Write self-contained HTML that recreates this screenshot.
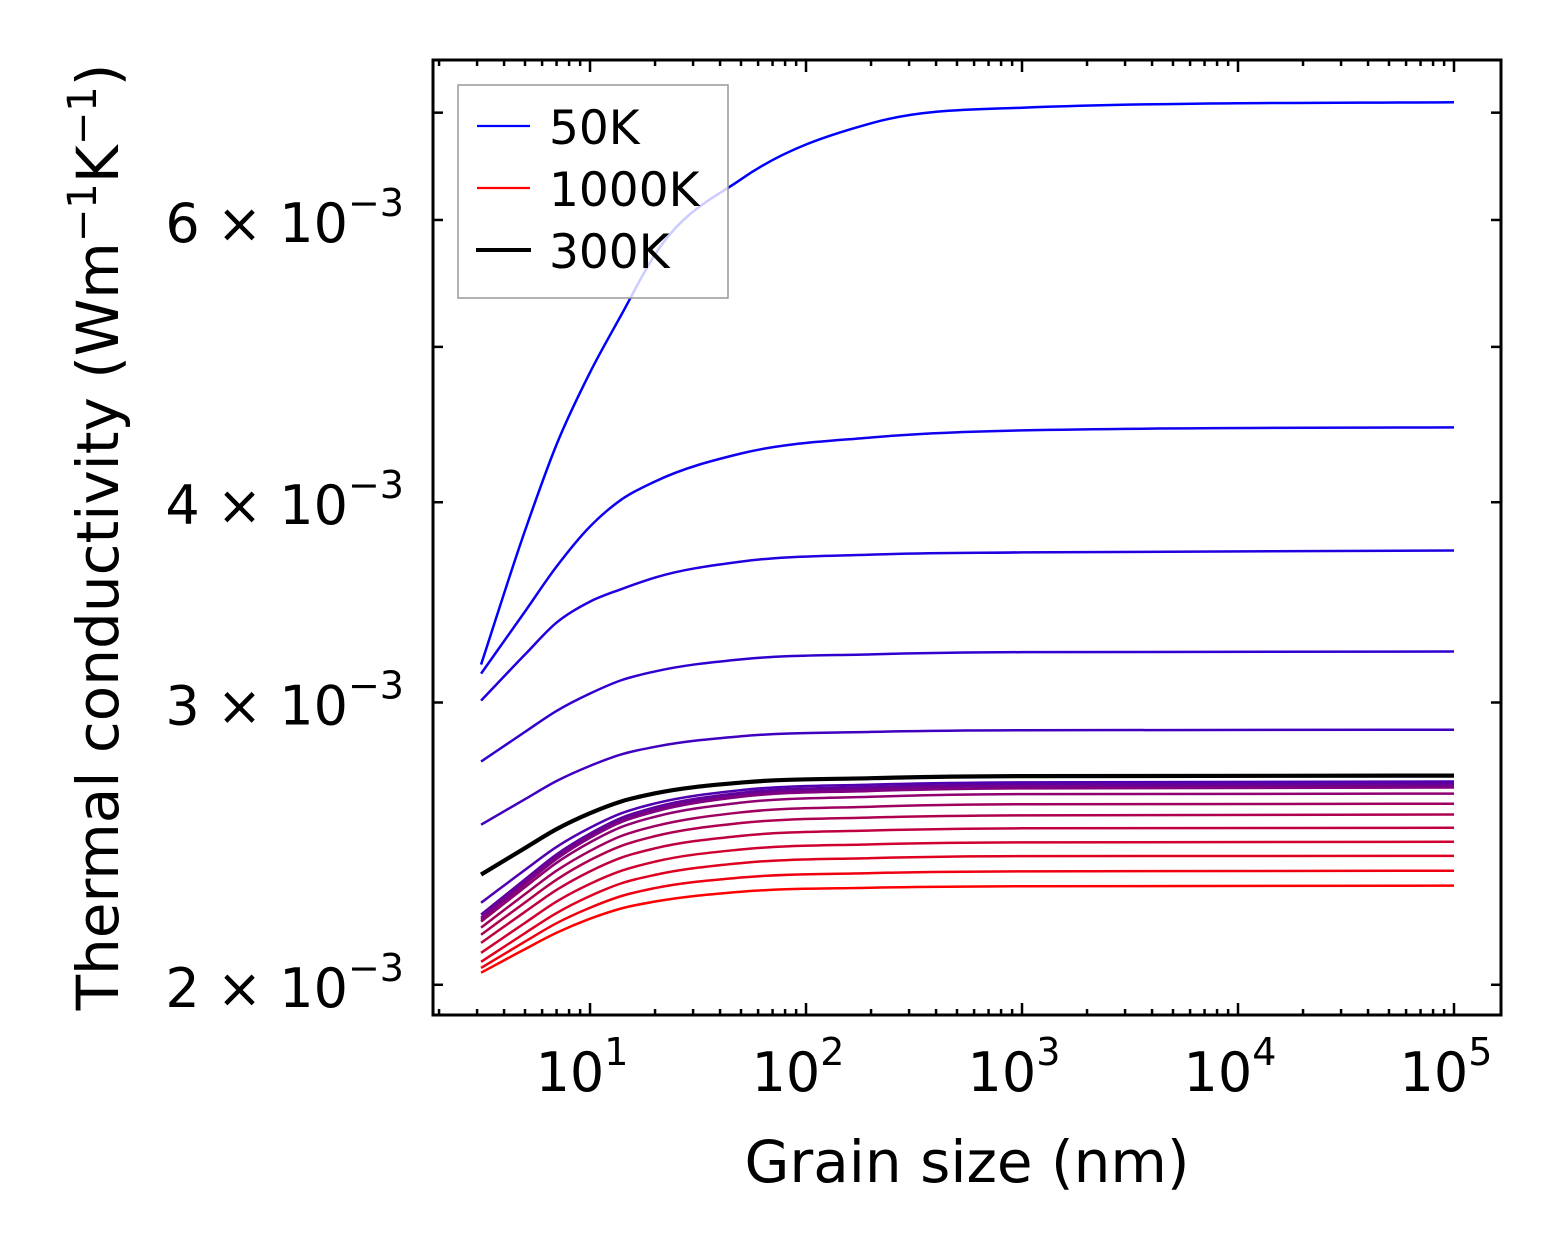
<!DOCTYPE html>
<html><head><meta charset="utf-8"><style>
html,body{margin:0;padding:0;background:#fff;}
svg{display:block;font-family:"DejaVu Sans","Liberation Sans",sans-serif;}
</style></head><body>
<svg id="chart" width="1563" height="1254" viewBox="0 0 1563 1254" xmlns="http://www.w3.org/2000/svg">
<rect x="0" y="0" width="1563" height="1254" fill="#fff"/>
<g id="series"></g>
<g id="axes"></g>
<g id="legend">
  <rect x="458" y="85" width="270" height="213" fill="#fff" fill-opacity="0.8" stroke="#999" stroke-width="1.5"/>
  <line x1="477" y1="126" x2="530" y2="126" stroke="#0000ff" stroke-width="2.2"/>
  <text x="549" y="144" font-size="47">50K</text>
  <line x1="477" y1="188" x2="530" y2="188" stroke="#ff0000" stroke-width="2.2"/>
  <text x="549" y="206" font-size="47">1000K</text>
  <line x1="476" y1="250" x2="531" y2="250" stroke="#000" stroke-width="4"/>
  <text x="549" y="268" font-size="47">300K</text>
</g>
<text x="967" y="1182" font-size="58" text-anchor="middle">Grain size (nm)</text>
<text transform="translate(118,537) rotate(-90)" font-size="58" text-anchor="middle">Thermal conductivity (Wm<tspan dy="-22" font-size="40">−1</tspan><tspan dy="22">K</tspan><tspan dy="-22" font-size="40">−1</tspan><tspan dy="22">)</tspan></text>
</svg>
<script>
// Grain sizes (nm) at which curves were read
const grainSizes = [3.13, 5, 7, 10, 14, 20, 50, 200, 1000, 100000];
// Temperatures (K) for coloured curves
const temps = [50,100,150,200,250,350,400,450,500,550,600,650,700,750,800,900,1000];
// Conductivity values in units of 1e-3 W/mK
const k50  = [3.168,3.840,4.346,4.820,5.239,5.711,6.361,6.894,7.050,7.106];
const k100 = [3.127,3.419,3.647,3.863,4.016,4.121,4.290,4.390,4.435,4.454];
const k150 = [3.008,3.214,3.365,3.468,3.531,3.590,3.673,3.710,3.722,3.732];
const k200 = [2.756,2.876,2.964,3.039,3.098,3.137,3.192,3.215,3.225,3.228];
const k250 = [2.517,2.611,2.680,2.739,2.785,2.815,2.858,2.876,2.883,2.885];
const kA = [2.250,2.359,2.438,2.506,2.559,2.595,2.645,2.666,2.675,2.678];
const kB = [2.212,2.327,2.412,2.485,2.542,2.581,2.635,2.657,2.667,2.670];
const kC = [2.202,2.318,2.403,2.477,2.534,2.573,2.627,2.650,2.660,2.662];
const kD = [2.196,2.311,2.396,2.470,2.527,2.565,2.620,2.642,2.652,2.655];
const kE = [2.190,2.301,2.383,2.454,2.509,2.546,2.598,2.620,2.630,2.632];
const kF = [2.171,2.278,2.356,2.424,2.477,2.512,2.562,2.583,2.592,2.594];
const kG = [2.149,2.251,2.326,2.392,2.442,2.476,2.523,2.543,2.551,2.554];
const kH = [2.124,2.221,2.292,2.354,2.401,2.433,2.477,2.496,2.504,2.506];
const kI = [2.094,2.186,2.254,2.312,2.356,2.387,2.429,2.447,2.454,2.456];
const kJ = [2.067,2.154,2.217,2.272,2.314,2.342,2.382,2.399,2.406,2.407];
const kK = [2.049,2.128,2.185,2.234,2.272,2.298,2.333,2.348,2.354,2.356];
const kL = [2.035,2.105,2.155,2.199,2.232,2.254,2.286,2.299,2.304,2.306];
const k300 = [2.343,2.434,2.501,2.559,2.603,2.633,2.674,2.691,2.699,2.701];
const xTickExps = [1, 2, 3, 4, 5];
const yTickVals = [2, 3, 4, 5, 6, 7];
const yLabelVals = [2, 3, 4, 6];

const NS = "http://www.w3.org/2000/svg";
const PX0 = 433, PX1 = 1501, PY0 = 60, PY1 = 1015;
const XMIN = Math.log10(1.875), XMAX = 5 + 47/216;
const YMIN = Math.log10(1.915), YMAX = Math.log10(7.55);
function xs(v){ return PX0 + (Math.log10(v) - XMIN) / (XMAX - XMIN) * (PX1 - PX0); }
function ys(v){ return PY1 - (Math.log10(v) - YMIN) / (YMAX - YMIN) * (PY1 - PY0); }
function mk(tag, attrs, parent){ const e = document.createElementNS(NS, tag); for (const k in attrs) e.setAttribute(k, attrs[k]); parent.appendChild(e); return e; }

function monoPath(px, py){
  const n = px.length, d = [], m = [];
  for (let i=0;i<n-1;i++) d.push((py[i+1]-py[i])/(px[i+1]-px[i]));
  m[0]=d[0]; m[n-1]=d[n-2];
  for (let i=1;i<n-1;i++){
    if (d[i-1]*d[i] <= 0) { m[i]=0; continue; }
    const h0 = px[i]-px[i-1], h1 = px[i+1]-px[i];
    m[i] = (d[i-1]*h1 + d[i]*h0)/(h0+h1);
  }
  for (let i=0;i<n-1;i++){ if (d[i]===0){m[i]=0;m[i+1]=0;continue;} const a=m[i]/d[i], b=m[i+1]/d[i], s=a*a+b*b; if (s>9){const t=3/Math.sqrt(s); m[i]=t*a*d[i]; m[i+1]=t*b*d[i];} }
  let p = "M" + px[0].toFixed(2) + "," + py[0].toFixed(2);
  for (let i=0;i<n-1;i++){ const h=(px[i+1]-px[i])/3; p += " C"+(px[i]+h).toFixed(2)+","+(py[i]+m[i]*h).toFixed(2)+" "+(px[i+1]-h).toFixed(2)+","+(py[i+1]-m[i+1]*h).toFixed(2)+" "+px[i+1].toFixed(2)+","+py[i+1].toFixed(2); }
  return p;
}

const series = [k50,k100,k150,k200,k250,kA,kB,kC,kD,kE,kF,kG,kH,kI,kJ,kK,kL];
const sg = document.getElementById("series");
const gx = grainSizes.map(xs);
series.forEach((vals, i) => {
  const t = i/(series.length-1);
  const col = "rgb(" + Math.round(255*t) + ",0," + Math.round(255*(1-t)) + ")";
  const p = mk("path", {d: monoPath(gx, vals.map(ys)), fill:"none", stroke:col, "stroke-width":"2.5"}, sg);
  
  
});
const bp = mk("path", {d: monoPath(gx, k300.map(ys)), fill:"none", stroke:"#000", "stroke-width":"4.2"}, sg);



const ax = document.getElementById("axes");
const fr = mk("rect", {x:PX0, y:PY0, width:PX1-PX0, height:PY1-PY0, fill:"none", stroke:"#000", "stroke-width":"3"}, ax);


for (let e=0;e<=5;e++){
  for (let m=1;m<=9;m++){
    const v = m*Math.pow(10,e);
    const lv = Math.log10(v);
    if (lv < XMIN || lv > XMAX) continue;
    const x = xs(v), L = (m===1)?12:6;
    const t1 = mk("line",{x1:x,y1:PY1,x2:x,y2:PY1-L,stroke:"#000","stroke-width":"2.5"},ax);
    
    
    const t2 = mk("line",{x1:x,y1:PY0,x2:x,y2:PY0+L,stroke:"#000","stroke-width":"2.5"},ax);
    
    
  }
}
xTickExps.forEach(e => {
  const x = xs(Math.pow(10,e));
  const tx = mk("text",{x:x-8,y:1091,"font-size":"54","text-anchor":"middle"},ax);
  
  
  tx.appendChild(document.createTextNode("10"));
  const sp = mk("tspan",{dy:"-26","font-size":"38"},tx);
  sp.textContent = String(e);
});
yTickVals.forEach(v => {
  const y = ys(v);
  const t1 = mk("line",{x1:PX0,y1:y,x2:PX0+10,y2:y,stroke:"#000","stroke-width":"2.5"},ax);
  
  
  const t2 = mk("line",{x1:PX1,y1:y,x2:PX1-10,y2:y,stroke:"#000","stroke-width":"2.5"},ax);
  
  
});
yLabelVals.forEach(v => {
  const y = ys(v);
  const tx = mk("text",{x:404,y:y+22,"font-size":"54","text-anchor":"end"},ax);
  
  
  tx.appendChild(document.createTextNode(v + " \u00d7 10"));
  const sp = mk("tspan",{dy:"-26","font-size":"38"},tx);
  sp.textContent = "\u22123";
});
</script>
</body></html>
